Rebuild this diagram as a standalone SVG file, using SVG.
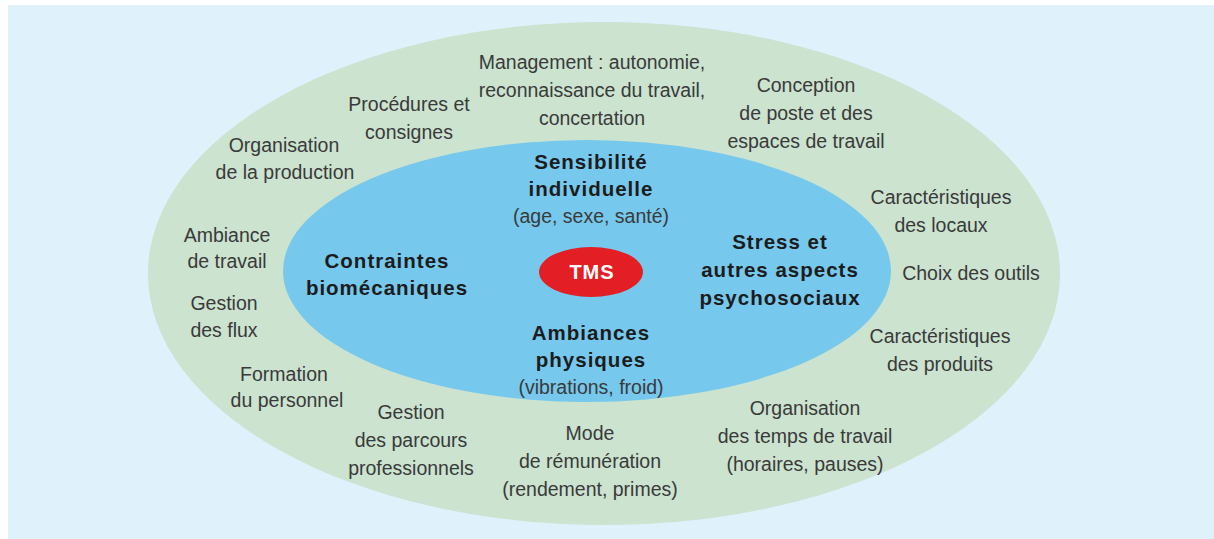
<svg xmlns="http://www.w3.org/2000/svg" width="1214" height="539" viewBox="0 0 1214 539">
<style>
.lbl{font-family:"Liberation Sans",Arial,sans-serif;font-size:19.5px;fill:#3a3a3a;text-anchor:middle}
.bold{font-family:"Liberation Sans",Arial,sans-serif;font-size:20.5px;font-weight:bold;letter-spacing:1px;fill:#1c1c1c;text-anchor:middle}
.tms{font-family:"Liberation Sans",Arial,sans-serif;font-size:20px;font-weight:bold;letter-spacing:1px;fill:#ffffff;text-anchor:middle}
</style>
<rect x="0" y="0" width="1214" height="539" fill="#ffffff"/>
<rect x="8" y="5" width="1206" height="534" fill="#dff1fb"/>
<g id="outer-ring">
<ellipse cx="604" cy="273.5" rx="456" ry="251.5" fill="#cbe3cf"/>
</g>
<g id="inner-ring">
<ellipse cx="587" cy="271" rx="304" ry="131" fill="#76c8ed"/>
</g>
<g id="tms">
<ellipse cx="591" cy="272" rx="52" ry="25" fill="#e31e24"/>
<text class="tms" x="592" y="279">TMS</text>
</g>
<g id="connectors"></g>
<g id="sensibilite">
<text class="bold" x="591" y="169">Sensibilité</text>
<text class="bold" x="591" y="196">individuelle</text>
<text class="lbl" x="591" y="223">(age, sexe, santé)</text>
</g>
<g id="contraintes">
<text class="bold" x="387" y="268">Contraintes</text>
<text class="bold" x="387" y="295">biomécaniques</text>
</g>
<g id="stress">
<text class="bold" x="780" y="249">Stress et</text>
<text class="bold" x="780" y="277">autres aspects</text>
<text class="bold" x="780" y="305">psychosociaux</text>
</g>
<g id="ambiances">
<text class="bold" x="591" y="340">Ambiances</text>
<text class="bold" x="591" y="367">physiques</text>
<text class="lbl" x="591" y="394">(vibrations, froid)</text>
</g>
<g id="management">
<text class="lbl" x="592" y="69">Management : autonomie,</text>
<text class="lbl" x="592" y="97">reconnaissance du travail,</text>
<text class="lbl" x="592" y="125">concertation</text>
</g>
<g id="procedures">
<text class="lbl" x="409" y="111">Procédures et</text>
<text class="lbl" x="409" y="139">consignes</text>
</g>
<g id="organisation-production">
<text class="lbl" x="284" y="152">Organisation</text>
<text class="lbl" x="285" y="179">de la production</text>
</g>
<g id="conception">
<text class="lbl" x="806" y="92">Conception</text>
<text class="lbl" x="806" y="120">de poste et des</text>
<text class="lbl" x="806" y="148">espaces de travail</text>
</g>
<g id="locaux">
<text class="lbl" x="941" y="204">Caractéristiques</text>
<text class="lbl" x="941" y="232">des locaux</text>
</g>
<g id="outils">
<text class="lbl" x="971" y="280">Choix des outils</text>
</g>
<g id="produits">
<text class="lbl" x="940" y="343">Caractéristiques</text>
<text class="lbl" x="940" y="371">des produits</text>
</g>
<g id="temps">
<text class="lbl" x="805" y="415">Organisation</text>
<text class="lbl" x="805" y="443">des temps de travail</text>
<text class="lbl" x="805" y="471">(horaires, pauses)</text>
</g>
<g id="remuneration">
<text class="lbl" x="590" y="440">Mode</text>
<text class="lbl" x="590" y="468">de rémunération</text>
<text class="lbl" x="590" y="496">(rendement, primes)</text>
</g>
<g id="parcours">
<text class="lbl" x="411" y="419">Gestion</text>
<text class="lbl" x="411" y="447">des parcours</text>
<text class="lbl" x="411" y="475">professionnels</text>
</g>
<g id="formation">
<text class="lbl" x="284" y="381">Formation</text>
<text class="lbl" x="287" y="407">du personnel</text>
</g>
<g id="ambiance-travail">
<text class="lbl" x="227" y="242">Ambiance</text>
<text class="lbl" x="227" y="268">de travail</text>
</g>
<g id="flux">
<text class="lbl" x="224" y="310">Gestion</text>
<text class="lbl" x="224" y="337">des flux</text>
</g>
</svg>
